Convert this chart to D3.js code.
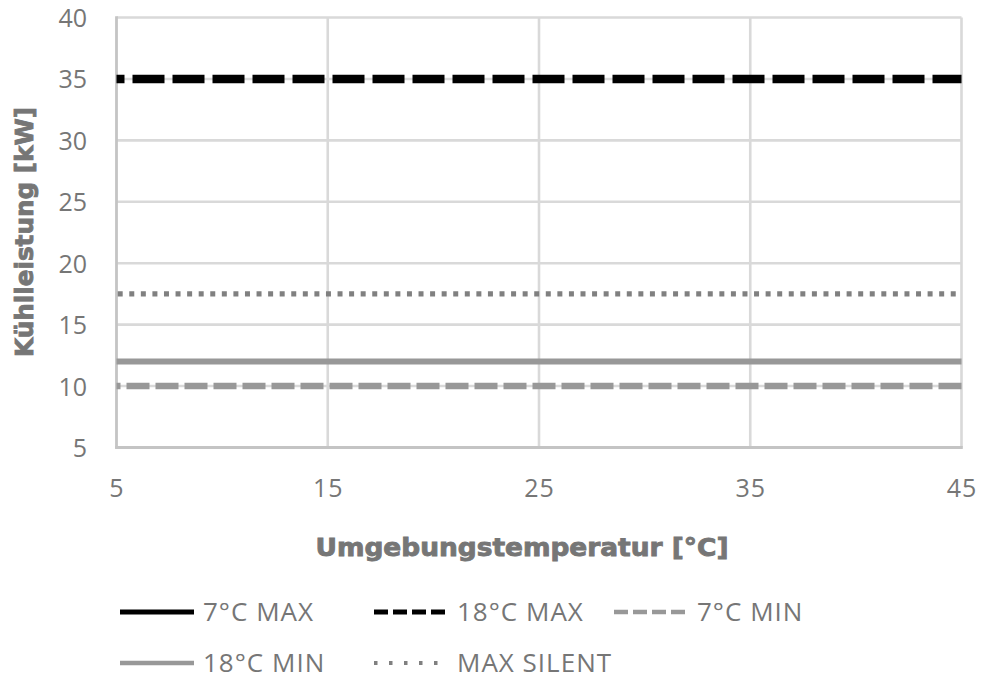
<!DOCTYPE html>
<html>
<head>
<meta charset="utf-8">
<script src="https://cdn.jsdelivr.net/npm/d3@7"></script>
<style>
  html, body { margin: 0; padding: 0; background: #fff; }
  svg { display: block; }
</style>
</head>
<body>
<svg id="chart" width="993" height="679"></svg>
<script>
// ---- data ----
const temperatures = [5, 15, 25, 35, 45];
const seriesNames = ["7°C MAX", "18°C MAX", "7°C MIN", "18°C MIN", "MAX SILENT"];
const max7 = [null, null, null, null, null];      // not visible in plot area
const max18 = [35, 35, 35, 35, 35];
const min7 = [10, 10, 10, 10, 10];
const min18 = [12, 12, 12, 12, 12];
const maxSilent = [17.5, 17.5, 17.5, 17.5, 17.5];
const xTicks = [5, 15, 25, 35, 45];
const yTicks = [5, 10, 15, 20, 25, 30, 35, 40];
const xTitle = "Umgebungstemperatur [°C]";
const yTitle = "Kühlleistung [kW]";

// ---- styles ----
const styles = [
  { color: "#000000", width: 8.5, dash: null, offset: 0, lw: 5, ldash: null },
  { color: "#000000", width: 8.5, dash: "32,8", offset: 24, lw: 5, ldash: "14,5" },
  { color: "#989898", width: 6.5, dash: "23,6", offset: 19, lw: 4.5, ldash: "14,5" },
  { color: "#989898", width: 6, dash: null, offset: 0, lw: 4.5, ldash: null },
  { color: "#808080", width: 5.2, dash: "5,6.57", offset: -1.2, lw: 4, ldash: "3.5,11.5" }
];
const allValues = [max7, max18, min7, min18, maxSilent];

const svg = d3.select("#chart");
const x = d3.scaleLinear().domain([5, 45]).range([116.5, 961.5]);
const y = d3.scaleLinear().domain([5, 40]).range([447.5, 17.5]);

const textColor = "#767676";
const tickFont = "'Open Sans', 'DejaVu Sans', sans-serif";

// gridlines
const grid = svg.append("g");
grid.selectAll("line.h").data(yTicks.filter(d => d > 5)).enter().append("line")
  .attr("x1", x(5)).attr("x2", x(45))
  .attr("y1", d => y(d)).attr("y2", d => y(d))
  .attr("stroke", "#d9d9d9").attr("stroke-width", 2.6);
grid.selectAll("line.v").data(xTicks.filter(d => d > 5)).enter().append("line")
  .attr("x1", d => x(d)).attr("x2", d => x(d))
  .attr("y1", y(5)).attr("y2", y(40))
  .attr("stroke", "#d9d9d9").attr("stroke-width", 2.6);

// axes lines
svg.append("line").attr("x1", x(5)).attr("x2", x(5)).attr("y1", y(5) + 1.3).attr("y2", y(40) - 1.3)
  .attr("stroke", "#c4c4c4").attr("stroke-width", 2.8);
svg.append("line").attr("x1", x(5) - 1.3).attr("x2", x(45) + 1.3).attr("y1", y(5)).attr("y2", y(5))
  .attr("stroke", "#c4c4c4").attr("stroke-width", 2.8);

// tick labels via axes
const yAxis = svg.append("g").attr("transform", `translate(87,0)`)
  .call(d3.axisLeft(y).tickValues(yTicks).tickSize(0).tickPadding(0));
yAxis.select(".domain").remove();
yAxis.selectAll("text").attr("font-family", tickFont).attr("font-size", 25)
  .attr("fill", textColor).attr("dy", "0.36em").attr("x", 0);

const xAxis = svg.append("g").attr("transform", `translate(0,497)`)
  .call(d3.axisBottom(x).tickValues(xTicks).tickSize(0).tickPadding(0));
xAxis.select(".domain").remove();
xAxis.selectAll("text").attr("font-family", tickFont).attr("font-size", 25)
  .attr("fill", textColor).attr("dy", 0).attr("y", 0).attr("letter-spacing", 1);

// series lines
const line = d3.line().defined(d => d[1] != null).x(d => x(d[0])).y(d => y(d[1]));
allValues.forEach((vals, i) => {
  const pts = temperatures.map((t, j) => [t, vals[j]]);
  const st = styles[i];
  const p = svg.append("path").datum(pts).attr("d", line)
    .attr("fill", "none").attr("stroke", st.color).attr("stroke-width", st.width)
    .attr("stroke-linecap", "butt");
  if (st.dash) p.attr("stroke-dasharray", st.dash).attr("stroke-dashoffset", st.offset);
});

// axis titles
const titleFont = "'DejaVu Sans', 'Liberation Sans', sans-serif";
svg.append("text").text(xTitle)
  .attr("x", 522).attr("y", 556).attr("text-anchor", "middle")
  .attr("font-family", titleFont).attr("font-weight", "bold").attr("font-size", 25.5)
  .attr("fill", textColor).attr("stroke", textColor).attr("stroke-width", 0.9)
  .attr("textLength", 413).attr("lengthAdjust", "spacingAndGlyphs");
svg.append("text").text(yTitle)
  .attr("transform", "translate(33,232) rotate(-90)").attr("text-anchor", "middle")
  .attr("font-family", titleFont).attr("font-weight", "bold").attr("font-size", 25.5)
  .attr("fill", textColor).attr("stroke", textColor).attr("stroke-width", 0.9)
  .attr("textLength", 250).attr("lengthAdjust", "spacingAndGlyphs");

// legend
const legendPos = [
  { x: 120, y: 612 }, { x: 374, y: 612 }, { x: 614, y: 612 },
  { x: 120, y: 663 }, { x: 374, y: 663 }
];
const legend = svg.append("g");
seriesNames.forEach((name, i) => {
  const st = styles[i], pos = legendPos[i];
  const g = legend.append("g").attr("transform", `translate(${pos.x},${pos.y})`);
  const l = g.append("line").attr("x1", 0).attr("x2", 74).attr("y1", 0).attr("y2", 0)
    .attr("stroke", st.color).attr("stroke-width", st.lw);
  if (st.ldash) l.attr("stroke-dasharray", st.ldash);
  g.append("text").text(name).attr("x", 83).attr("y", 0).attr("dy", "0.35em")
    .attr("font-family", tickFont).attr("font-size", 26).attr("letter-spacing", 1)
    .attr("fill", textColor);
});
</script>
</body>
</html>
